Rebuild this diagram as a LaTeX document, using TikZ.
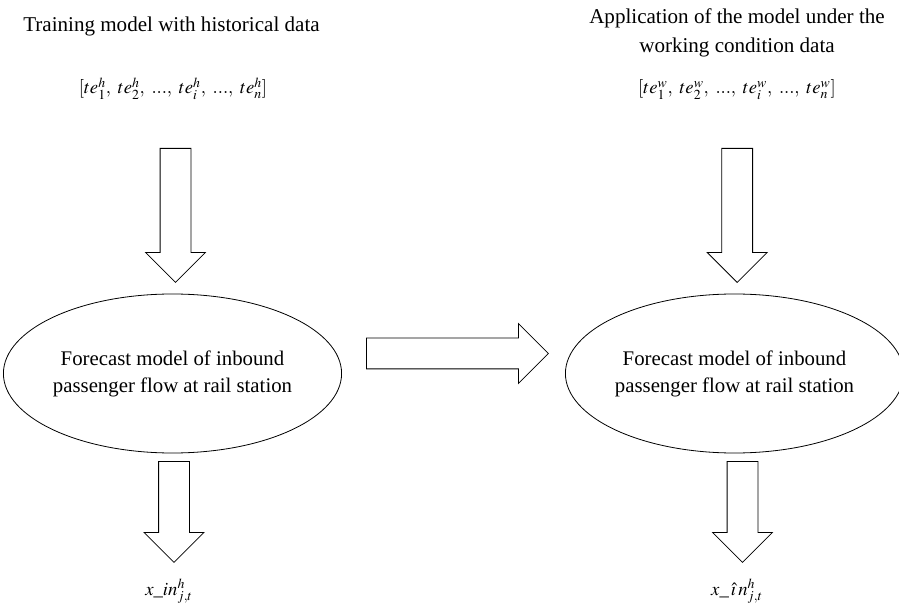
\documentclass[tikz,border=0pt]{standalone}
\usepackage{mathptmx}
\usepackage[no-math]{fontspec}
\setmainfont{Liberation Serif}
\usetikzlibrary{shapes.geometric,shapes.arrows}
\tikzstyle{model}=[ellipse,draw,line width=0.6pt,minimum width=243pt,minimum height=119.25pt,inner sep=0pt,align=center,font=\fontsize{15.6}{20.3}\selectfont]
\tikzstyle{bigarrow}=[single arrow,draw,line width=0.6pt,inner xsep=0pt,inner ysep=11.25pt,text height=0pt,text depth=0pt,anchor=tail,single arrow head extend=10.9pt]
\tikzstyle{pointdown}=[rotate=-90]
\tikzstyle{txt}=[anchor=base,align=center,inner sep=0pt,font=\fontsize{15.8}{21.75}\selectfont]
\tikzstyle{vec}=[anchor=base,inner sep=0pt,font=\fontsize{14}{16}\selectfont]
\tikzstyle{result}=[anchor=base,inner sep=0pt,font=\fontsize{14}{16}\selectfont]

\begin{document}
\begin{tikzpicture}[x=0.75pt,y=-0.75pt]
\useasboundingbox (0,0) rectangle (899,616);

% titles and data
\node[txt] (titleH) at (171.5, 32) {Training model with historical data};
\node[txt] (titleW) at (737, 53) {Application of the model under the\\working condition data};
\node[vec] (dataH)  at (173, 94) {$[te_1^h,\ te_2^h,\ ...,\ te_i^h,\ ...,\ te_n^h]$};
\node[vec] (dataW)  at (737, 94) {$[te_1^w,\ te_2^w,\ ...,\ te_i^w,\ ...,\ te_n^w]$};

% models
\node[model] (modelH) at (172.5, 373.5) {Forecast model of inbound\\passenger flow at rail station};
\node[model] (modelW) at (734.5, 373.5) {Forecast model of inbound\\passenger flow at rail station};

% outputs
\node[result] (outH) at (169, 595) {$x\_in_{j,t}^h$};
\node[result] (outW) at (737, 595) {$x\_\,\hat{\imath}\,n_{j,t}^h$};

% block arrows
\node[bigarrow, pointdown, minimum height=100.5pt] (inH)  at (175.5, 148) {};
\node[bigarrow, pointdown, minimum height=100.5pt] (inW)  at (737.2, 148) {};
\node[bigarrow, pointdown, minimum height=75.75pt] (resH) at (174, 461)   {};
\node[bigarrow, pointdown, minimum height=75.75pt] (resW) at (742.5, 461) {};
\node[bigarrow, minimum height=136.5pt] (transfer) at (366, 353.5) {};

\end{tikzpicture}
\end{document}
